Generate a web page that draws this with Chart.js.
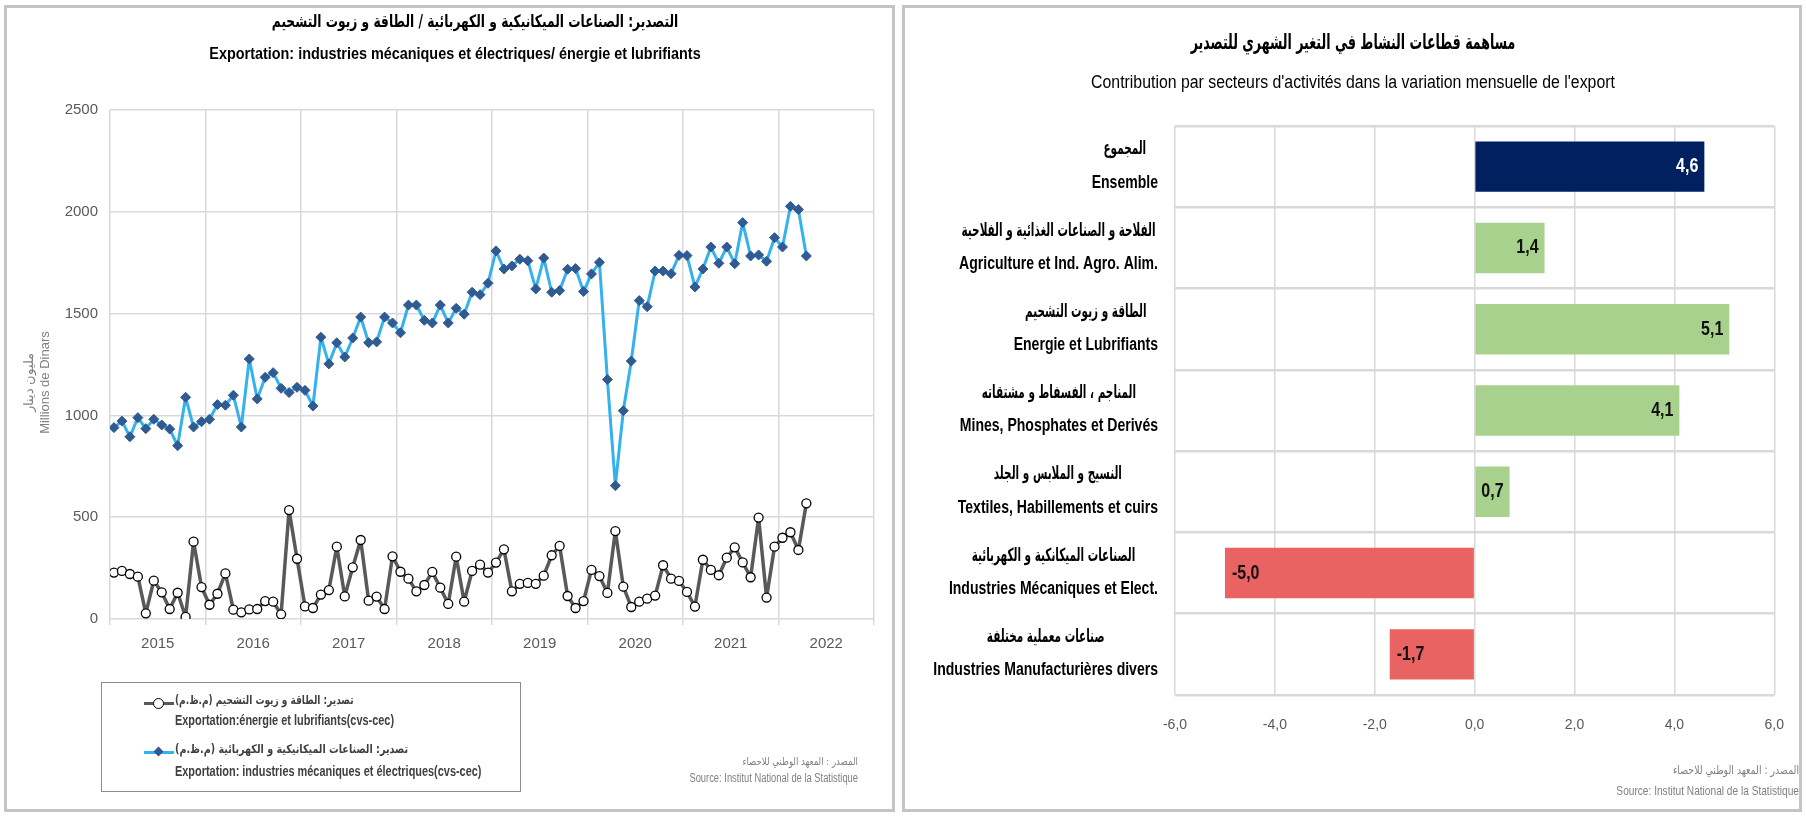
<!DOCTYPE html>
<html lang="fr">
<head>
<meta charset="UTF-8">
<title>Exportation</title>
<script src="https://cdn.jsdelivr.net/npm/chart.js"></script>
<style>
    body { margin: 0; width: 1806px; height: 818px; background: #fff; position: relative; overflow: hidden; }
    .panel { position: absolute; box-sizing: border-box; border: 3px solid #c4c4c4; }
    canvas { position: absolute; top: 0; }
    .txt { position: absolute; white-space: nowrap; color: #000; }
    .sans { font-family: 'Liberation Sans', Arial, sans-serif; }
    .ar { font-family: 'DejaVu Sans', sans-serif; }
    .title { text-align: center; transform-origin: center center; }
    #legend { position: absolute; left: 101px; top: 682px; width: 420px; height: 110px; box-sizing: border-box; border: 1.5px solid #8c8c8c; }
    #legend .txt { transform-origin: left center; color: #404040; font-weight: bold; }
    .sym { position: absolute; width: 30px; height: 3px; }
    .src { position: absolute; text-align: right; color: #7f7f7f; transform-origin: right center; transform: scaleX(0.78); }
</style>
</head>
<body>
<div class="panel" style="left:4px; top:5px; width:891px; height:807px;"></div>
<div class="panel" style="left:902px; top:5px; width:900px; height:807px;"></div>

<canvas id="lineChart" width="898" height="818" style="left:0"></canvas>
<canvas id="barChart" width="906" height="818" style="left:900px"></canvas>

<!-- titres -->
<div class="txt ar title" dir="rtl" style="left:20px; width:910px; top:11px; font-size:17px; font-weight:bold; transform:scaleX(0.72);">التصدير:  الصناعات الميكانيكية و الكهربائية /  الطاقة و زيوت التشحيم</div>
<div class="txt sans title" style="left:0; width:910px; top:45px; font-size:16px; font-weight:bold; transform:scaleX(0.9);">Exportation: industries mécaniques et électriques/ énergie et lubrifiants</div>
<div class="txt ar title" dir="rtl" style="left:900px; width:906px; top:30px; font-size:21px; font-weight:bold; transform:scaleX(0.6);">مساهمة قطاعات النشاط في التغير الشهري للتصدير</div>
<div class="txt sans title" style="left:900px; width:906px; top:72px; font-size:18px; transform:scaleX(0.88);">Contribution par secteurs d'activités dans la variation mensuelle de l'export</div>

<!-- legende -->
<div id="legend">
    <div class="sym" style="left:42px; top:19px; background:#595959;"></div>
    <div style="position:absolute; left:51px; top:15px; width:9px; height:9px; border:1.3px solid #000; border-radius:50%; background:#fff;"></div>
    <div class="txt ar" dir="rtl" style="left:73px; top:10px; font-size:12px; transform:scaleX(0.75);">تصدير: الطاقة و زيوت التشحيم (م.ظ.م)</div>
    <div class="txt sans" style="left:73px; top:29px; font-size:14px; transform:scaleX(0.78);">Exportation:énergie et lubrifiants(cvs-cec)</div>
    <div class="sym" style="left:42px; top:68px; background:#35b1ee;"></div>
    <div style="position:absolute; left:53px; top:65px; width:7px; height:7px; background:#2f5a92; transform:rotate(45deg);"></div>
    <div class="txt ar" dir="rtl" style="left:73px; top:59px; font-size:12px; transform:scaleX(0.8);">تصدير: الصناعات الميكانيكية و الكهربائية (م.ظ.م)</div>
    <div class="txt sans" style="left:73px; top:80px; font-size:14px; transform:scaleX(0.78);">Exportation:  industries mécaniques et électriques(cvs-cec)</div>
</div>

<!-- sources -->
<div class="src ar" style="left:600px; width:258px; top:755px; font-size:11px;">المصدر : المعهد الوطني للاحصاء</div>
<div class="src sans" style="left:600px; width:258px; top:771px; font-size:12px;">Source: Institut National de la Statistique</div>
<div class="src ar" style="left:1500px; width:299px; top:763px; font-size:12px;">المصدر : المعهد الوطني للاحصاء</div>
<div class="src sans" style="left:1500px; width:299px; top:783px; font-size:13px;">Source: Institut National de la Statistique</div>

<script>
    const SANS = "'Liberation Sans', Arial, sans-serif";
    const ARABIC = "'DejaVu Sans', sans-serif";

    // --- graphique de gauche : exportations mensuelles, janv. 2015 -> avr. 2022 (MD, cvs-cec)
    const yearLabels = ['2015', '2016', '2017', '2018', '2019', '2020', '2021', '2022'];
    const energie = [
        228, 236, 221, 208, 28, 188, 131, 49, 129, 10, 380, 157,
        70, 124, 224, 46, 33, 47, 49, 88, 85, 23, 535, 296,
        62, 54, 120, 142, 355, 111, 254, 388, 90, 110, 49, 308,
        232, 198, 136, 167, 231, 154, 74, 306, 85, 236, 267, 228,
        277, 342, 136, 173, 177, 173, 213, 313, 359, 113, 54, 88,
        241, 211, 128, 432, 159, 59, 85, 100, 115, 264, 198, 187,
        133, 61, 291, 241, 215, 301, 352, 278, 205, 498, 105, 355,
        399, 426, 339, 568
    ];
    const mecaniques = [
        940, 972, 895, 989, 935, 981, 953, 933, 851, 1089, 943, 969,
        981, 1053, 1050, 1099, 943, 1277, 1081, 1187, 1210, 1133, 1112, 1138,
        1123, 1046, 1384, 1253, 1357, 1287, 1380, 1483, 1357, 1361, 1483, 1454,
        1406, 1542, 1542, 1467, 1454, 1542, 1454, 1526, 1497, 1605, 1593, 1649,
        1808, 1719, 1734, 1767, 1760, 1621, 1773, 1605, 1613, 1718, 1721, 1608,
        1695, 1752, 1176, 655, 1023, 1267, 1564, 1534, 1709, 1709, 1696, 1786,
        1785, 1631, 1719, 1827, 1747, 1827, 1745, 1947, 1783, 1788, 1757, 1873,
        1827, 2027, 2011, 1783
    ];
    const legendLabels = [
        'Exportation:énergie et lubrifiants(cvs-cec)',
        'Exportation: industries mécaniques et électriques(cvs-cec)'
    ];

    // --- graphique de droite : contributions à la variation mensuelle
    const sectorsAr = [
        'المجموع',
        'الفلاحة و الصناعات الغذائية و الفلاحية',
        'الطاقة و زيوت التشحيم',
        'المناجم ، الفسفاط و مشتقاته',
        'النسيج و الملابس و الجلد',
        'الصناعات الميكانكية و الكهربائية',
        'صناعات معملية مختلفة'
    ];
    const sectorsFr = [
        'Ensemble',
        'Agriculture et Ind. Agro. Alim.',
        'Energie et Lubrifiants',
        'Mines, Phosphates et Derivés',
        'Textiles, Habillements et cuirs',
        'Industries Mécaniques et Elect.',
        'Industries Manufacturières divers'
    ];
    const contributions = [4.6, 1.4, 5.1, 4.1, 0.7, -5.0, -1.7];
    const contribTicks = [-6, -4, -2, 0, 2, 4, 6];

    const fmt = v => v.toFixed(1).replace('.', ',');

    // ticks x : une limite d'année sur deux, un libellé au milieu de chaque année
    const xTickValues = [];
    for (let k = 0; k <= yearLabels.length * 2; k++) xTickValues.push(-0.5 + 6 * k);
    const isEdge = i => i % 2 === 0;

    new Chart(document.getElementById('lineChart'), {
        type: 'line',
        data: {
            datasets: [{
                label: legendLabels[0],
                data: energie.map((v, i) => ({ x: i, y: v })),
                borderColor: '#595959',
                borderWidth: 3.5,
                borderJoinStyle: 'round',
                pointStyle: 'circle',
                pointRadius: 4.5,
                pointBackgroundColor: '#ffffff',
                pointBorderColor: '#000000',
                pointBorderWidth: 1.3,
                tension: 0
            }, {
                label: legendLabels[1],
                data: mecaniques.map((v, i) => ({ x: i, y: v })),
                borderColor: '#35b1ee',
                borderWidth: 3,
                borderJoinStyle: 'round',
                pointStyle: 'rectRot',
                pointRadius: 5,
                pointBackgroundColor: '#2f5a92',
                pointBorderColor: '#2f5a92',
                pointBorderWidth: 1,
                tension: 0
            }]
        },
        options: {
            responsive: false,
            animation: false,
            devicePixelRatio: 1,
            layout: { padding: { left: 22, right: 24, top: 110, bottom: 149 } },
            plugins: { legend: { display: false }, tooltip: { enabled: false } },
            scales: {
                x: {
                    type: 'linear',
                    min: -0.5,
                    max: 95.5,
                    afterBuildTicks: s => { s.ticks = xTickValues.map(v => ({ value: v })); },
                    afterFit: s => { s.height = 50; },
                    border: { display: false },
                    grid: {
                        color: c => isEdge(c.index) ? '#d9d9d9' : 'rgba(0,0,0,0)',
                        tickColor: c => isEdge(c.index) ? '#d9d9d9' : 'rgba(0,0,0,0)',
                        lineWidth: 1.5,
                        tickLength: 6
                    },
                    ticks: {
                        autoSkip: false,
                        maxRotation: 0,
                        padding: 10,
                        color: '#595959',
                        font: { family: SANS, size: 15 },
                        callback: (v, i) => isEdge(i) ? '' : yearLabels[(i - 1) / 2]
                    }
                },
                y: {
                    min: 0,
                    max: 2500,
                    afterFit: s => { s.width = 88; },
                    border: { display: false },
                    grid: { color: '#d9d9d9', lineWidth: 1.5, drawTicks: false },
                    ticks: { stepSize: 500, padding: 12, color: '#595959', font: { family: SANS, size: 15 }, callback: v => String(v) },
                    title: {
                        display: true,
                        // espaces de fin : décale le titre vers le bas comme dans l'original
                        text: ['مليون دينار          ', 'Millions de Dinars          '],
                        color: '#808080',
                        padding: 0,
                        font: { family: SANS, size: 13 }
                    }
                }
            }
        }
    });

    // texte horizontalement condensé
    function condensed(ctx, text, x, y, sx) {
        ctx.save();
        ctx.translate(x, y);
        ctx.scale(sx, 1);
        ctx.fillText(text, 0, 0);
        ctx.restore();
    }

    // libellés des secteurs (arabe + français, centrés l'un sur l'autre)
    const sectorLabels = {
        id: 'sectorLabels',
        afterDraw(chart) {
            const ctx = chart.ctx;
            const yScale = chart.scales.y;
            const right = chart.chartArea.left - 17;
            const fontAr = 'bold 18px ' + ARABIC, sxAr = 0.58;
            const fontFr = 'bold 18px ' + SANS, sxFr = 0.78;
            ctx.save();
            ctx.fillStyle = '#000';
            ctx.textAlign = 'center';
            ctx.textBaseline = 'middle';
            sectorsFr.forEach((fr, i) => {
                const y = yScale.getPixelForValue(i);
                ctx.font = fontAr;
                const wAr = ctx.measureText(sectorsAr[i]).width * sxAr;
                ctx.font = fontFr;
                const wFr = ctx.measureText(fr).width * sxFr;
                const cx = right - Math.max(wAr, wFr) / 2;
                ctx.font = fontAr;
                condensed(ctx, sectorsAr[i], cx, y - 17, sxAr);
                ctx.font = fontFr;
                condensed(ctx, fr, cx, y + 16, sxFr);
            });
            ctx.restore();
        }
    };

    // valeurs à l'intérieur de l'extrémité des barres
    const barValues = {
        id: 'barValues',
        afterDatasetsDraw(chart) {
            const ctx = chart.ctx;
            ctx.save();
            ctx.font = 'bold 20px ' + SANS;
            ctx.textBaseline = 'middle';
            chart.getDatasetMeta(0).data.forEach((bar, i) => {
                const v = contributions[i];
                ctx.fillStyle = i === 0 ? '#ffffff' : '#111111';
                if (v >= 0) {
                    ctx.textAlign = 'right';
                    condensed(ctx, fmt(v), bar.x - 6, bar.y, 0.8);
                } else {
                    ctx.textAlign = 'left';
                    condensed(ctx, fmt(v), bar.x + 7, bar.y, 0.8);
                }
            });
            ctx.restore();
        }
    };

    new Chart(document.getElementById('barChart'), {
        type: 'bar',
        data: {
            labels: sectorsFr,
            datasets: [{
                data: contributions,
                backgroundColor: contributions.map((v, i) => i === 0 ? '#002060' : (v >= 0 ? '#a9d18e' : '#ea6363')),
                barPercentage: 0.62,
                categoryPercentage: 1
            }]
        },
        options: {
            indexAxis: 'y',
            responsive: false,
            animation: false,
            devicePixelRatio: 1,
            layout: { padding: { left: 275, right: 31, top: 126, bottom: 73 } },
            plugins: { legend: { display: false }, tooltip: { enabled: false } },
            scales: {
                x: {
                    min: -6,
                    max: 6,
                    afterBuildTicks: s => { s.ticks = contribTicks.map(v => ({ value: v })); },
                    afterFit: s => { s.height = 50; },
                    border: { display: false },
                    grid: { color: '#d9d9d9', lineWidth: 1.5, drawTicks: false },
                    ticks: { padding: 22, color: '#595959', font: { family: SANS, size: 14 }, callback: v => fmt(v) }
                },
                y: {
                    afterFit: s => { s.width = 0; },
                    border: { display: false },
                    grid: { color: '#d9d9d9', lineWidth: 2.5, drawTicks: false, offset: true },
                    ticks: { display: false }
                }
            }
        },
        plugins: [sectorLabels, barValues]
    });
</script>
</body>
</html>
